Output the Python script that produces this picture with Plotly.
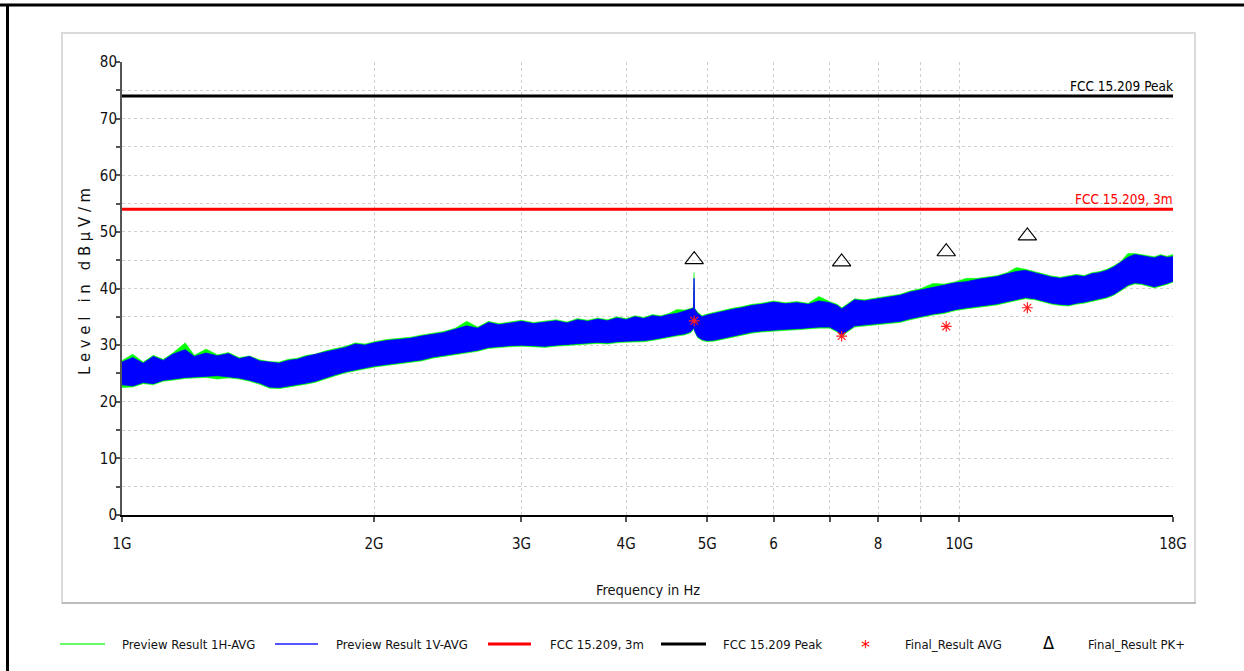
import plotly.graph_objects as go
import math

# ---------------- data (frequencies in GHz, levels in dBuV/m) ----------------
freq_ghz = [1.00, 1.03, 1.06, 1.09, 1.12, 1.15, 1.19, 1.22, 1.26, 1.30, 1.34, 1.38, 1.42, 1.46,
            1.50, 1.54, 1.58, 1.62, 1.66, 1.70, 1.75, 1.80, 1.85, 1.90, 1.95, 2.00, 2.07, 2.14,
            2.21, 2.28, 2.35, 2.42, 2.50, 2.58, 2.66, 2.74, 2.82, 2.90, 3.00, 3.10, 3.20, 3.30,
            3.40, 3.50, 3.60, 3.70, 3.80, 3.90, 4.00, 4.10, 4.20, 4.30, 4.40, 4.50, 4.60, 4.70,
            4.78, 4.815, 4.822, 4.828, 4.87, 4.93, 5.00, 5.10, 5.20, 5.35, 5.50, 5.65, 5.80, 6.00,
            6.20, 6.40, 6.60, 6.80, 7.00, 7.15, 7.24, 7.33, 7.50, 7.70, 8.00, 8.25, 8.50, 8.75,
            9.00, 9.30, 9.60, 9.90, 10.2, 10.5, 10.8, 11.1, 11.4, 11.7, 12.0, 12.3, 12.6, 12.9,
            13.2, 13.5, 13.8, 14.1, 14.4, 14.7, 15.0, 15.3, 15.6, 15.9, 16.2, 16.5, 16.8, 17.1,
            17.4, 17.7, 18.0]

v_max = [27.0, 27.8, 26.8, 28.0, 27.3, 28.4, 29.2, 28.0, 28.6, 28.1, 28.5, 27.6, 28.0, 27.2,
         27.0, 26.8, 27.3, 27.5, 28.0, 28.3, 28.8, 29.2, 29.6, 30.2, 30.0, 30.4, 30.8, 31.0,
         31.2, 31.6, 31.9, 32.2, 32.8, 33.4, 33.0, 34.0, 33.6, 33.9, 34.2, 33.8, 34.0, 34.3,
         33.9, 34.5, 34.2, 34.6, 34.3, 34.8, 34.5, 35.0, 34.7, 35.2, 35.0, 35.4, 35.6, 36.0,
         36.3, 36.5, 41.8, 36.4, 35.6, 35.0, 35.3, 35.6, 36.0, 36.3, 36.6, 37.0, 37.2, 37.6,
         37.3, 37.5, 37.2, 37.8, 37.5, 37.0, 36.4, 37.0, 38.0, 37.8, 38.2, 38.4, 38.8, 39.4,
         39.8, 40.2, 40.6, 41.0, 41.2, 41.6, 41.8, 42.1, 42.6, 43.0, 43.2, 42.8, 42.4, 42.0,
         41.8, 42.0, 42.3, 42.1, 42.6, 42.8, 43.2, 43.8, 44.6, 45.5, 46.0, 45.8, 45.6, 45.4,
         45.8, 45.5, 45.6]

v_min = [23.0, 22.8, 23.4, 23.2, 23.8, 24.0, 24.3, 24.4, 24.5, 24.6, 24.4, 24.2, 23.8, 23.3,
         22.6, 22.5, 22.7, 23.0, 23.3, 23.6, 24.2, 24.8, 25.3, 25.7, 26.0, 26.3, 26.6, 26.9,
         27.1, 27.4, 27.9, 28.1, 28.4, 28.8, 29.1, 29.6, 29.8, 29.9, 30.0, 29.9, 29.8, 30.0,
         30.1, 30.3, 30.4, 30.5, 30.4, 30.6, 30.7, 30.8, 30.8, 31.0, 31.2, 31.5, 31.8, 32.0,
         32.4, 33.0, 33.2, 32.6, 31.5, 31.0, 30.8, 30.9, 31.2, 31.6, 31.9, 32.3, 32.5, 32.7,
         32.8, 32.9, 33.0, 33.2, 33.2, 32.5, 31.6, 32.4, 33.4, 33.6, 33.8, 34.0, 34.2, 34.7,
         35.1, 35.5, 35.8, 36.3, 36.6, 36.9, 37.1, 37.3, 37.7, 38.1, 38.4, 38.2, 37.8, 37.4,
         37.2, 37.1, 37.4, 37.6, 37.9, 38.2, 38.5, 39.0, 39.8, 40.6, 41.0, 40.9, 40.6, 40.3,
         40.6, 40.9, 41.3]

h_max = [27.3, 28.4, 27.0, 28.2, 27.5, 28.6, 30.4, 28.2, 29.3, 28.3, 28.7, 27.8, 28.1, 27.4,
         27.1, 27.0, 27.5, 27.7, 28.2, 28.4, 29.0, 29.4, 29.8, 30.4, 30.2, 30.6, 31.0, 31.2,
         31.4, 31.8, 32.1, 32.4, 33.0, 34.2, 33.2, 34.2, 33.8, 34.1, 34.4, 34.0, 34.2, 34.5,
         34.1, 34.7, 34.4, 34.8, 34.5, 35.0, 34.7, 35.2, 34.9, 35.4, 35.2, 35.6, 36.3, 36.2,
         36.5, 36.7, 42.8, 36.6, 35.8, 35.2, 35.5, 35.8, 36.2, 36.5, 36.8, 37.2, 37.4, 37.8,
         37.5, 37.7, 37.4, 38.6, 37.7, 37.2, 36.6, 37.2, 38.2, 38.0, 38.4, 38.6, 39.0, 39.6,
         40.0, 40.9, 40.8, 41.2, 41.8, 41.8, 42.0, 42.3, 42.8, 43.7, 43.4, 43.0, 42.6, 42.2,
         42.0, 42.2, 42.5, 42.3, 42.8, 43.0, 43.4, 44.0, 44.8, 46.2, 46.2, 46.0, 45.8, 45.6,
         46.0, 45.7, 46.0]

h_min = [22.5, 22.6, 23.2, 23.0, 23.6, 23.8, 24.1, 24.2, 24.3, 24.0, 24.2, 24.0, 23.6, 23.1,
         22.4, 22.3, 22.5, 22.8, 23.1, 23.4, 24.0, 24.6, 25.1, 25.5, 25.8, 26.1, 26.4, 26.7,
         26.9, 27.2, 27.7, 27.9, 28.2, 28.6, 28.9, 29.4, 29.6, 29.7, 29.8, 29.7, 29.6, 29.8,
         29.9, 30.1, 30.2, 30.3, 30.2, 30.4, 30.5, 30.6, 30.6, 30.8, 31.0, 31.3, 31.6, 31.8,
         32.2, 32.8, 33.0, 32.4, 31.3, 30.8, 30.6, 30.7, 31.0, 31.4, 31.7, 32.1, 32.3, 32.5,
         32.6, 32.7, 32.8, 33.0, 33.0, 32.3, 31.4, 32.2, 33.2, 33.4, 33.6, 33.8, 34.0, 34.5,
         34.9, 35.3, 35.6, 36.1, 36.4, 36.7, 36.9, 37.1, 37.5, 37.9, 38.2, 38.0, 37.6, 37.2,
         37.0, 36.9, 37.2, 37.4, 37.7, 38.0, 38.3, 38.8, 39.6, 40.4, 40.8, 40.7, 40.4, 40.1,
         40.4, 40.7, 41.1]

limit_freq_ghz = [1.0, 18.0]
limit_avg = [54.0, 54.0]      # FCC 15.209, 3m
limit_pk = [74.0, 74.0]       # FCC 15.209 Peak

final_freq_ghz = [4.824, 7.236, 9.648, 12.060]
final_avg = [34.3, 31.6, 33.3, 36.6]
final_pk = [45.1, 44.7, 46.5, 49.3]

x_tick_ghz = [1, 2, 3, 4, 5, 6, 7, 8, 9, 10, 18]
x_tick_text = ["1G", "2G", "3G", "4G", "5G", "6", "", "8", "", "10G", "18G"]
y_tick_vals = [0, 10, 20, 30, 40, 50, 60, 70, 80]

legend_labels = ["Preview Result 1H-AVG", "Preview Result 1V-AVG", "FCC 15.209, 3m",
                 "FCC 15.209 Peak", "Final_Result AVG", "Final_Result PK+"]

# ---------------- figure ----------------
FONT = "DejaVu Sans Condensed, Liberation Sans, sans-serif"
W, H = 1244, 671
L, R, T, B = 122, 71, 62, 156
PW, PH = W - L - R, H - T - B

def px(x):   # pixel x -> paper
    return (x - L) / PW

def py(y):   # pixel y -> paper
    return (H - B - y) / PH

hz = lambda lst: [f * 1e9 for f in lst]

fig = go.Figure()

GREEN = "#00ff00"
BLUE = "#0000ff"

fig.add_trace(go.Scatter(
    x=hz(freq_ghz) + hz(freq_ghz[::-1]), y=h_max + h_min[::-1],
    fill="toself", fillcolor=GREEN, mode="lines", line=dict(color=GREEN, width=0.5),
    name=legend_labels[0], showlegend=False, hoverinfo="skip"))
fig.add_trace(go.Scatter(
    x=hz(freq_ghz) + hz(freq_ghz[::-1]), y=v_max + v_min[::-1],
    fill="toself", fillcolor=BLUE, mode="lines", line=dict(color=BLUE, width=0.8),
    name=legend_labels[1], showlegend=False, hoverinfo="skip"))
fig.add_trace(go.Scatter(x=hz(limit_freq_ghz), y=limit_avg, mode="lines",
                         line=dict(color="#ff0000", width=3), name=legend_labels[2], showlegend=False))
fig.add_trace(go.Scatter(x=hz(limit_freq_ghz), y=limit_pk, mode="lines",
                         line=dict(color="#000000", width=3), name=legend_labels[3], showlegend=False))
fig.add_trace(go.Scatter(x=hz(final_freq_ghz), y=final_avg, mode="markers",
                         marker=dict(symbol="asterisk", size=9, color="#ff0000",
                                     line=dict(color="#ff2020", width=1.2)),
                         name=legend_labels[4], showlegend=False))
fig.add_trace(go.Scatter(x=hz(final_freq_ghz), y=final_pk, mode="markers",
                         marker=dict(symbol="triangle-up-open", size=16, color="#000000",
                                     line=dict(color="#000000", width=1.1)),
                         name=legend_labels[5], showlegend=False))

GRIDC = "#cfcfcf"
fig.update_xaxes(type="log", range=[9, 9 + math.log10(18)],
                 tickvals=hz(x_tick_ghz), ticktext=x_tick_text,
                 showline=True, linecolor="#000000", linewidth=1.5,
                 ticks="outside", ticklen=5, tickcolor="#555555", tickwidth=1.5,
                 showgrid=True, gridcolor=GRIDC, griddash="dot", gridwidth=1, zeroline=False,
                 tickfont=dict(family=FONT, size=15, color="#111111"),
                 ticklabelstandoff=9)
fig.update_yaxes(range=[0, 80], tickvals=y_tick_vals,
                 showline=True, linecolor="#555555", linewidth=2,
                 ticks="outside", ticklen=4, tickcolor="#555555", tickwidth=1.5,
                 showgrid=True, gridcolor=GRIDC, griddash="dot", gridwidth=1, zeroline=False,
                 minor=dict(dtick=5, ticks="outside", ticklen=4, tickcolor="#555555",
                            showgrid=True, gridcolor=GRIDC, griddash="dot"),
                 tickfont=dict(family=FONT, size=15, color="#111111"),
                 ticklabelstandoff=-4)

NB = "\u00a0"
ytitle = NB.join(["L", "e", "v", "e", "l"]) + NB * 3 + NB.join(["i", "n"]) + NB * 3 + \
         NB.join(["d", "B", "µ", "V", "/", "m"])

ann = []
# limit labels
ann.append(dict(x=9 + math.log10(18), y=74, xref="x", yref="y", text="FCC 15.209 Peak",
                showarrow=False, xanchor="right", yanchor="bottom", xshift=2,
                font=dict(family=FONT, size=13.5, color="#000000")))
ann.append(dict(x=9 + math.log10(18), y=54, xref="x", yref="y", text="FCC 15.209, 3m",
                showarrow=False, xanchor="right", yanchor="bottom", xshift=2,
                font=dict(family=FONT, size=13.5, color="#ff0000")))
# axis titles
ann.append(dict(x=px(84), y=py(282), xref="paper", yref="paper",
                text=ytitle, textangle=-90, showarrow=False,
                xanchor="center", yanchor="middle",
                font=dict(family=FONT, size=16.5, color="#111111")))
ann.append(dict(x=px(648), y=py(590), xref="paper", yref="paper", text="Frequency in Hz",
                showarrow=False, xanchor="center", yanchor="middle",
                font=dict(family=FONT, size=14.5, color="#111111")))

shapes = []
# grey panel
shapes.append(dict(type="rect", xref="paper", yref="paper", x0=px(62), x1=px(1195),
                   y0=py(603), y1=py(33), line=dict(color="#dadada", width=2),
                   fillcolor="rgba(0,0,0,0)", layer="below"))
shapes.append(dict(type="line", xref="paper", yref="paper", x0=px(62), x1=px(1196),
                   y0=py(603), y1=py(603), line=dict(color="#bdbdbd", width=2)))
# outer black frame
shapes.append(dict(type="line", xref="paper", yref="paper", x0=px(0), x1=px(1244),
                   y0=py(5), y1=py(5), line=dict(color="#000000", width=3)))
shapes.append(dict(type="line", xref="paper", yref="paper", x0=px(7.5), x1=px(7.5),
                   y0=py(5), y1=py(671), line=dict(color="#000000", width=3)))

# manual legend
LEG_Y = 644
leg_line_x = [(60, 105, "#66ff66", 2), (275, 318, "#5555ff", 2), (488, 531, "#ff0000", 3),
              (661, 706, "#000000", 3)]
leg_text_x = [120, 334, 548, 721, 903, 1086]
for (a, b, c, w) in leg_line_x:
    shapes.append(dict(type="line", xref="paper", yref="paper", x0=px(a), x1=px(b),
                       y0=py(LEG_Y), y1=py(LEG_Y), line=dict(color=c, width=w)))
ann.append(dict(x=px(865), y=py(LEG_Y + 2), xref="paper", yref="paper", text="*",
                showarrow=False, xanchor="center", yanchor="middle",
                font=dict(family="DejaVu Sans", size=18, color="#ff0000")))
ann.append(dict(x=px(1048), y=py(LEG_Y - 2), xref="paper", yref="paper", text="Δ",
                showarrow=False, xanchor="center", yanchor="middle",
                font=dict(family="DejaVu Sans Condensed", size=18, color="#000000")))
for lab, tx in zip(legend_labels, leg_text_x):
    ann.append(dict(x=px(tx), y=py(LEG_Y), xref="paper", yref="paper", text=lab,
                    showarrow=False, xanchor="left", yanchor="middle",
                    font=dict(family=FONT, size=13, color="#111111")))

fig.update_layout(width=W, height=H, margin=dict(l=L, r=R, t=T, b=B, autoexpand=False),
                  paper_bgcolor="#ffffff", plot_bgcolor="#ffffff",
                  showlegend=False, annotations=ann, shapes=shapes)

fig.write_html("out.html")
